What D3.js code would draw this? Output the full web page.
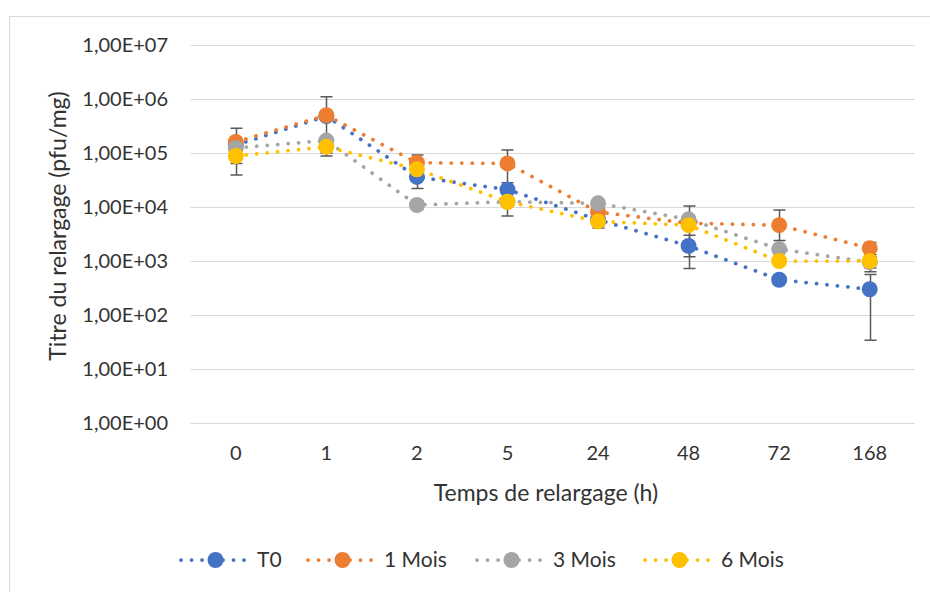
<!DOCTYPE html>
<html lang="fr">
<head>
  <meta charset="UTF-8">
  <title>Titre du relargage</title>
  <style>
    body { margin: 0; background: #fff; }
    svg { font-family: 'Lato', 'Open Sans', sans-serif; }
    .grid line { stroke: #d9d9d9; stroke-width: 1; }
    .tick-label { fill: #333; font-size: 20px; }
    .axis-title { fill: #333; font-size: 23px; }
    .legend text { fill: #333; font-size: 21px; }
    .err { stroke: #595959; stroke-width: 1.5; fill: none; }
  </style>
</head>
<body>
  <svg width="930" height="592"></svg>

  <script src="https://d3js.org/d3.v7.min.js"></script>
  <script>
    // temps de relargage (h)
    var categories = ['0', '1', '2', '5', '24', '48', '72', '168'];
    var seriesNames = ['T0', '1 Mois', '3 Mois', '6 Mois'];
    var colors = ['#4472C4', '#ED7D31', '#A5A5A5', '#FFC000'];

    // titres (pfu/mg)
    var t0      = [1.4e5, 4.8e5, 3.6e4, 2.1e4, 5.8e3, 1.9e3, 4.5e2, 3.0e2];
    var mois1   = [1.6e5, 5.0e5, 6.6e4, 6.4e4, 8.1e3, 5.0e3, 4.6e3, 1.72e3];
    var mois3   = [1.24e5, 1.7e5, 1.09e4, 1.25e4, 1.17e4, 5.9e3, 1.66e3, 9.5e2];
    var mois6   = [8.8e4, 1.3e5, 5.0e4, 1.25e4, 5.4e3, 4.6e3, 1.0e3, 1.0e3];

    // bornes des barres d'erreur (null = pas de barre)
    var t0Low    = [null, null, 2.2e4, 1.4e4, 4.5e3, 7.3e2, null, 34];
    var t0High   = [null, null, 5.0e4, 2.8e4, 7.0e3, 3.0e3, null, 5.65e2];
    var mois1Low  = [3.9e4, 1.0e5, 4.5e4, 1.4e4, null, null, 2.4e3, 1.2e3];
    var mois1High = [2.87e5, 1.1e6, 9.2e4, 1.14e5, null, null, 8.8e3, 2.2e3];
    var mois3Low  = [null, null, 9.0e3, null, null, 1.2e3, null, 6.3e2];
    var mois3High = [null, null, 1.3e4, null, null, 1.04e4, null, 1.2e3];
    var mois6Low  = [6.4e4, 8.8e4, null, 6.8e3, 4.1e3, null, null, 7.4e2];
    var mois6High = [1.1e5, 1.8e5, null, 1.8e4, 7.0e3, null, null, 1.3e3];

    var yTicks = [1, 10, 100, 1e3, 1e4, 1e5, 1e6, 1e7];

    var values = [t0, mois1, mois3, mois6];
    var lows = [t0Low, mois1Low, mois3Low, mois6Low];
    var highs = [t0High, mois1High, mois3High, mois6High];

    var series = seriesNames.map(function(name, i) {
      return {
        name: name,
        color: colors[i],
        points: categories.map(function(c, j) {
          return { cat: c, v: values[i][j], lo: lows[i][j], hi: highs[i][j] };
        })
      };
    });

    var svg = d3.select('svg');

    // cadre du graphique
    svg.append('rect')
      .attr('x', 9.5).attr('y', 16.5)
      .attr('width', 940).attr('height', 600)
      .attr('fill', 'none').attr('stroke', '#d9d9d9');

    var x = d3.scaleBand().domain(categories).range([190.5, 915]);
    var y = d3.scaleLog().domain([1, 1e7]).range([423, 45]);

    function fmt(v) {
      var e = Math.round(Math.log10(v));
      return '1,00E+' + (e < 10 ? '0' : '') + e;
    }

    svg.append('g').attr('class', 'grid')
      .selectAll('line')
      .data(yTicks)
      .enter().append('line')
        .attr('x1', 190.5).attr('x2', 915)
        .attr('y1', function(d) { return Math.round(y(d)) + 0.5; })
        .attr('y2', function(d) { return Math.round(y(d)) + 0.5; });

    svg.append('g')
      .selectAll('text')
      .data(yTicks)
      .enter().append('text')
        .attr('class', 'tick-label')
        .attr('x', 168)
        .attr('y', function(d) { return y(d); })
        .attr('dy', '0.35em')
        .attr('text-anchor', 'end')
        .text(fmt);

    svg.append('g')
      .selectAll('text')
      .data(categories)
      .enter().append('text')
        .attr('class', 'tick-label')
        .attr('x', function(d) { return x(d) + x.bandwidth() / 2; })
        .attr('y', 453)
        .attr('dy', '0.35em')
        .attr('text-anchor', 'middle')
        .text(function(d) { return d; });

    svg.append('text')
      .attr('class', 'axis-title')
      .attr('transform', 'translate(58,226) rotate(-90)')
      .attr('dy', '0.35em')
      .attr('text-anchor', 'middle')
      .text('Titre du relargage (pfu/mg)');

    svg.append('text')
      .attr('class', 'axis-title')
      .attr('x', 546)
      .attr('y', 493)
      .attr('dy', '0.35em')
      .attr('text-anchor', 'middle')
      .text('Temps de relargage (h)');

    var cx = function(d) { return x(d.cat) + x.bandwidth() / 2; };

    var line = d3.line()
      .x(cx)
      .y(function(d) { return y(d.v); });

    // lignes pointillées
    svg.append('g')
      .selectAll('path')
      .data(series)
      .enter().append('path')
        .attr('d', function(s) { return line(s.points); })
        .attr('fill', 'none')
        .attr('stroke', function(s) { return s.color; })
        .attr('stroke-width', 3.75)
        .attr('stroke-linecap', 'round')
        .attr('stroke-dasharray', '0.1 10.4');

    // barres d'erreur
    var errs = [];
    series.forEach(function(s) {
      s.points.forEach(function(p) { if (p.lo != null) errs.push(p); });
    });
    var eg = svg.append('g').attr('class', 'err');
    errs.forEach(function(p) {
      var px = Math.round(cx(p)) + 0.5;
      var path = d3.path();
      path.moveTo(px, y(p.lo)); path.lineTo(px, y(p.hi));
      path.moveTo(px - 6, y(p.lo)); path.lineTo(px + 6, y(p.lo));
      path.moveTo(px - 6, y(p.hi)); path.lineTo(px + 6, y(p.hi));
      eg.append('path').attr('d', path.toString());
    });

    // marqueurs
    svg.append('g')
      .selectAll('g')
      .data(series)
      .enter().append('g')
        .attr('fill', function(s) { return s.color; })
      .selectAll('circle')
      .data(function(s) { return s.points; })
      .enter().append('circle')
        .attr('cx', cx)
        .attr('cy', function(d) { return y(d.v); })
        .attr('r', 8);

    // légende
    var legendX = [181, 308, 477, 645];
    var legend = svg.append('g').attr('class', 'legend')
      .selectAll('g')
      .data(series)
      .enter().append('g')
        .attr('transform', function(s, i) { return 'translate(' + legendX[i] + ',560)'; });

    legend.append('line')
      .attr('x1', 0).attr('x2', 69)
      .attr('stroke', function(s) { return s.color; })
      .attr('stroke-width', 3.75)
      .attr('stroke-linecap', 'round')
      .attr('stroke-dasharray', '0.1 10.4');

    legend.append('circle')
      .attr('cx', 34.5).attr('r', 8)
      .attr('fill', function(s) { return s.color; });

    legend.append('text')
      .attr('x', 76)
      .attr('dy', '0.35em')
      .text(function(s) { return s.name; });
  </script>
</body>
</html>
